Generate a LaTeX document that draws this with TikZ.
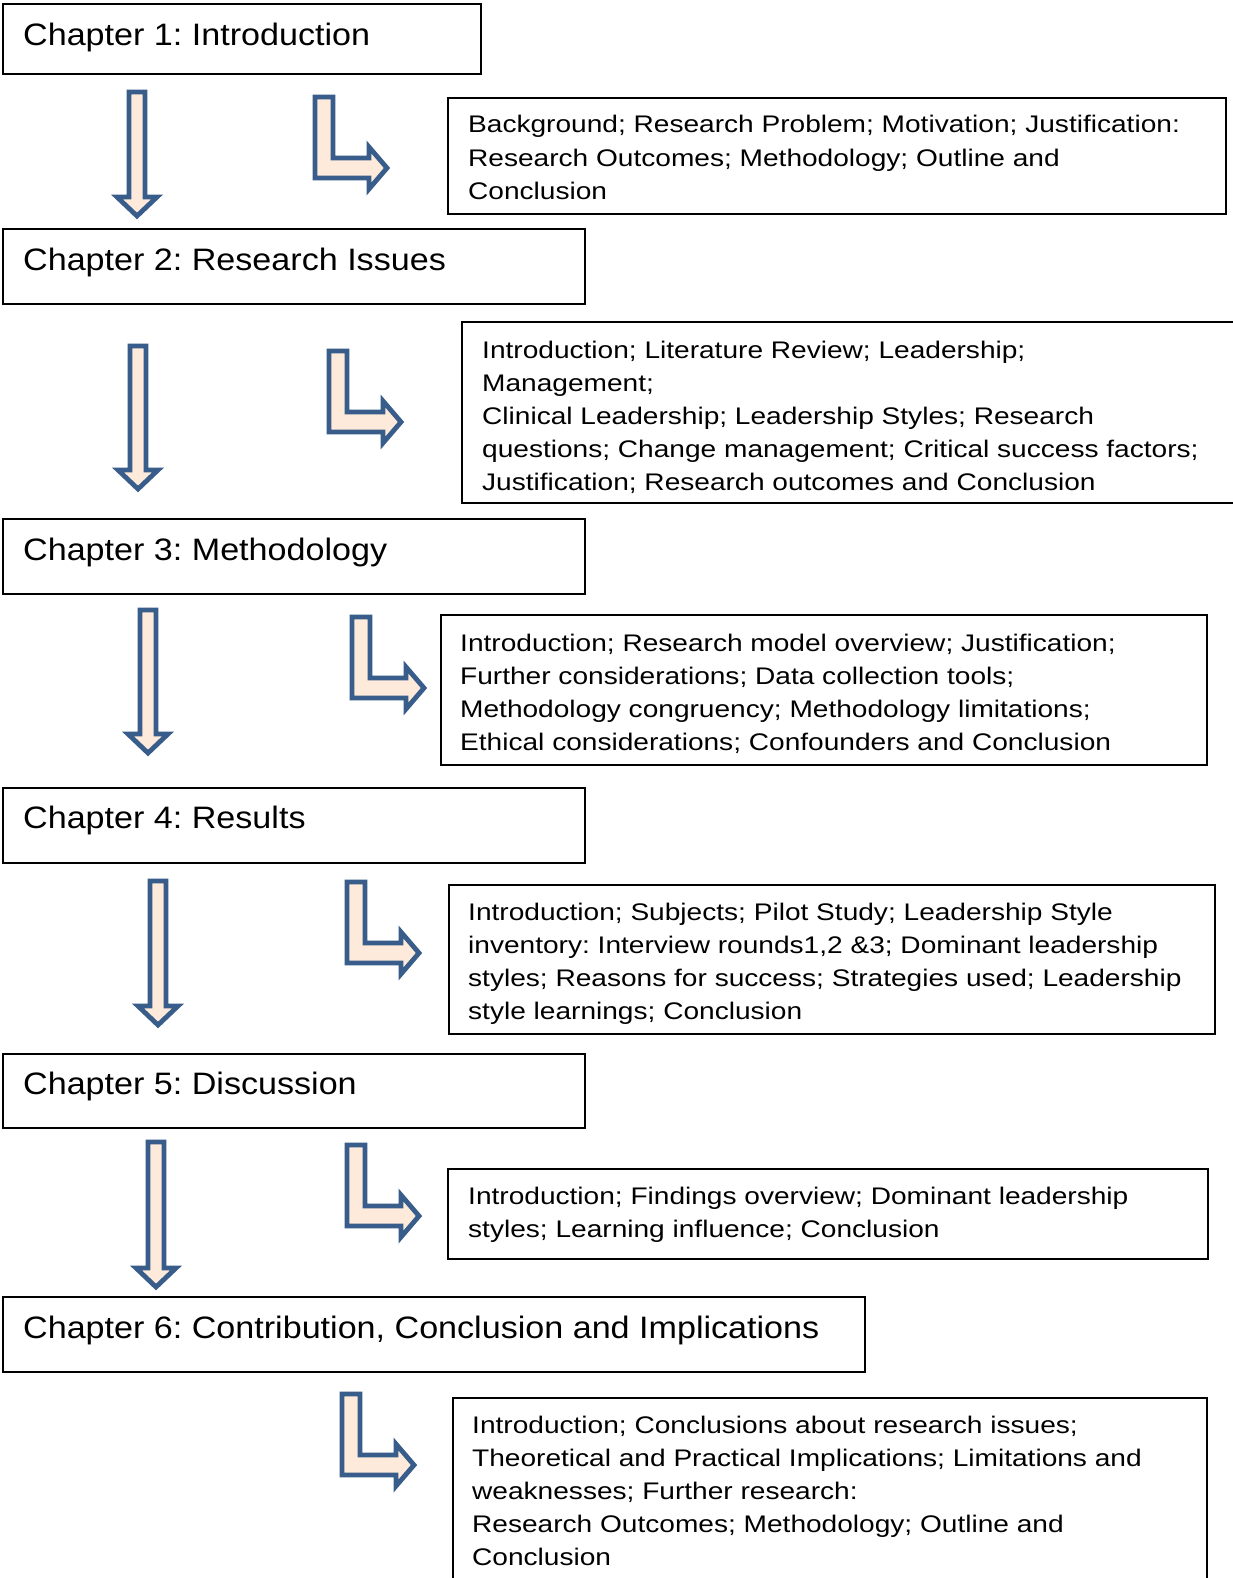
\documentclass[tikz,border=0pt]{standalone}
\usepackage{fontspec}
\setmainfont[FakeStretch=1.1]{Liberation Sans}
\newfontfamily\detailfont[FakeStretch=1.17]{Liberation Sans}
\definecolor{arrowline}{RGB}{56,93,138}
\definecolor{arrowfill}{RGB}{253,234,218}
\tikzset{
  chapbox/.style={draw=black, line width=2pt},
  chaptext/.style={anchor=base west, inner sep=0pt, font=\fontsize{31}{36}\selectfont},
  detailtext/.style={anchor=base west, inner sep=0pt, font=\detailfont\fontsize{24}{33.2}\selectfont},
  blockarrow/.style={draw=arrowline, fill=arrowfill, line width=4.8pt, line join=miter},
}
% straight block arrow pointing down: centre x, top y, tip y
\newcommand{\downblock}[3]{%
  \draw[blockarrow] (#1-8,#2) -- (#1+8,#2) -- (#1+8,#3-19) -- (#1+20,#3-19)
    -- (#1,#3) -- (#1-20,#3-19) -- (#1-8,#3-19) -- cycle;}
% bent block arrow (down, then right): left x and top y of the stem
\newcommand{\bentblock}[2]{%
  \draw[blockarrow] (#1,#2) -- (#1+18,#2) -- (#1+18,#2+61) -- (#1+54,#2+61)
    -- (#1+54,#2+50) -- (#1+72,#2+71) -- (#1+54,#2+92) -- (#1+54,#2+81)
    -- (#1,#2+81) -- cycle;}
\newcommand{\detaillines}[1]{\parbox[t]{900pt}{\raggedright\frenchspacing\baselineskip=33.2pt #1}}
\frenchspacing
\begin{document}
\begin{tikzpicture}[x=1pt,y=-1pt]
\useasboundingbox[fill=white] (0,0) rectangle (1232,1578);

% chapter boxes
\draw[chapbox] (3,4) rectangle (481,74);
\node[chaptext] (c1) at (23,45.3) {Chapter 1: Introduction};
\draw[chapbox] (3,229) rectangle (585,304);
\node[chaptext] (c2) at (23,270.8) {Chapter 2: Research Issues};
\draw[chapbox] (3,519) rectangle (585,594);
\node[chaptext] (c3) at (23,560.6) {Chapter 3: Methodology};
\draw[chapbox] (3,788) rectangle (585,863);
\node[chaptext] (c4) at (23,828.4) {Chapter 4: Results};
\draw[chapbox] (3,1054) rectangle (585,1128);
\node[chaptext] (c5) at (23,1094) {Chapter 5: Discussion};
\draw[chapbox] (3,1297) rectangle (865,1372);
\node[chaptext] (c6) at (23,1338.7) {Chapter 6: Contribution, Conclusion and Implications};

% detail boxes
\draw[chapbox] (448,98) rectangle (1226,214);
\node[detailtext] (d1) at (468,133) {\detaillines{Background; Research Problem; Motivation; Justification:\\
Research Outcomes; Methodology; Outline and\\
Conclusion}};
\draw[chapbox] (462,322) rectangle (1242,503);
\node[detailtext] (d2) at (482,358) {\detaillines{Introduction; Literature Review; Leadership;\\
Management;\\
Clinical Leadership; Leadership Styles; Research\\
questions; Change management; Critical success factors;\\
Justification; Research outcomes and Conclusion}};
\draw[chapbox] (441,615) rectangle (1207,765);
\node[detailtext] (d3) at (460,651) {\detaillines{Introduction; Research model overview; Justification;\\
Further considerations; Data collection tools;\\
Methodology congruency; Methodology limitations;\\
Ethical considerations; Confounders and Conclusion}};
\draw[chapbox] (449,885) rectangle (1215,1034);
\node[detailtext] (d4) at (468,920) {\detaillines{Introduction; Subjects; Pilot Study; Leadership Style\\
inventory: Interview rounds1,2 \&3; Dominant leadership\\
styles; Reasons for success; Strategies used; Leadership\\
style learnings; Conclusion}};
\draw[chapbox] (448,1169) rectangle (1208,1259);
\node[detailtext] (d5) at (468,1204) {\detaillines{Introduction; Findings overview; Dominant leadership\\
styles; Learning influence; Conclusion}};
\draw[chapbox] (453,1398) rectangle (1207,1582);
\node[detailtext] (d6) at (472,1433) {\detaillines{Introduction; Conclusions about research issues;\\
Theoretical and Practical Implications; Limitations and\\
weaknesses; Further research:\\
Research Outcomes; Methodology; Outline and\\
Conclusion}};

% arrows between chapters
\downblock{137}{92}{216}
\downblock{138}{346}{489}
\downblock{148}{610}{753}
\downblock{158}{881}{1025}
\downblock{156}{1142}{1287}

% arrows towards the chapter contents
\bentblock{315}{97}
\bentblock{329}{351}
\bentblock{352}{617}
\bentblock{347}{882}
\bentblock{347}{1145}
\bentblock{342}{1394}
\end{tikzpicture}
\end{document}
